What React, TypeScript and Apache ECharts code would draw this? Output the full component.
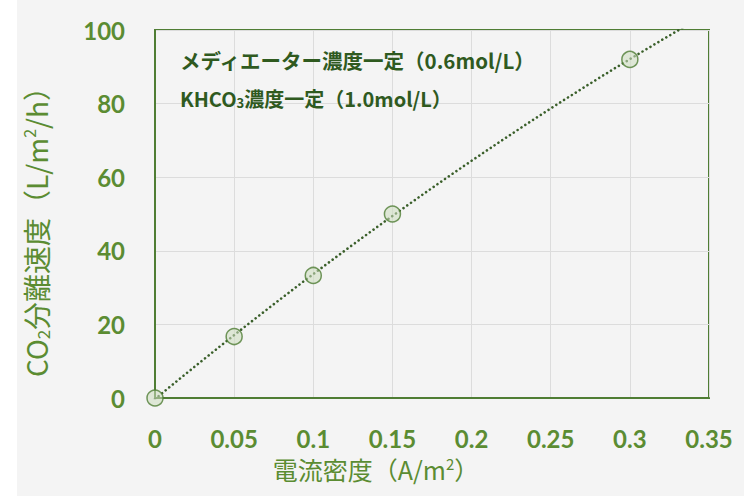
import React, { useEffect, useRef } from "react";
import * as echarts from "echarts";

const currentDensity = [0, 0.05, 0.1, 0.15, 0.3];
const co2Rate = [0, 16.7, 33.3, 50, 92];
const xTicks = { min: 0, max: 0.35, interval: 0.05 };
const yTicks = { min: 0, max: 100, interval: 20 };
const legendLines = ["メディエーター濃度一定（0.6mol/L）", "KHCO{sub|3}濃度一定（1.0mol/L）"];
const xName = "電流密度（A/m{sup|2}）";
const yName = "CO{sub|2}分離速度（L/m{sup|2}/h）";

// least-squares quadratic trendline (as in a spreadsheet "polynomial, order 2" trendline)
function quadFit(xs: number[], ys: number[]) {
  const s = (f: (x: number, y: number) => number) => xs.reduce((acc, x, i) => acc + f(x, ys[i]), 0);
  const n = xs.length;
  const Sx = s((x) => x), Sx2 = s((x) => x * x), Sx3 = s((x) => x ** 3), Sx4 = s((x) => x ** 4);
  const Sy = s((_, y) => y), Sxy = s((x, y) => x * y), Sx2y = s((x, y) => x * x * y);
  const M = [
    [n, Sx, Sx2, Sy],
    [Sx, Sx2, Sx3, Sxy],
    [Sx2, Sx3, Sx4, Sx2y],
  ];
  for (let i = 0; i < 3; i++) {
    for (let k = i + 1; k < 3; k++) {
      const f = M[k][i] / M[i][i];
      for (let j = i; j < 4; j++) M[k][j] -= f * M[i][j];
    }
  }
  const r = [0, 0, 0];
  for (let i = 2; i >= 0; i--) {
    let v = M[i][3];
    for (let j = i + 1; j < 3; j++) v -= M[i][j] * r[j];
    r[i] = v / M[i][i];
  }
  return (x: number) => r[0] + r[1] * x + r[2] * x * x;
}

export default function App() {
  const ref = useRef<HTMLDivElement>(null);
  useEffect(() => {
    if (!ref.current) return;
    const chart = echarts.init(ref.current, null, { renderer: "svg" });
    const fit = quadFit(currentDensity, co2Rate);
    const trend: number[][] = [];
    const steps = 140;
    for (let i = 0; i <= steps; i++) {
      const x = (xTicks.max * i) / steps;
      trend.push([x, fit(x)]);
    }
    const green = "#5b8c32";
    const dark = "#2f5a1f";
    const font = "Lato, 'Noto Sans CJK JP', sans-serif";
    const cjk = "'Noto Sans CJK JP', Lato, sans-serif";
    chart.setOption({
      animation: false,
      backgroundColor: "#ffffff",
      graphic: [
        {
          type: "rect",
          z: -10,
          shape: { x: 17, y: 0, width: 744, height: 496 },
          style: { fill: "#f4f4f4" },
          silent: true,
        },
        {
          type: "text",
          left: 180,
          top: 50,
          z: 10,
          style: {
            text: legendLines[0],
            fontSize: 20.5,
            fontWeight: "bold",
            fill: dark,
            fontFamily: cjk,
          },
        },
        {
          type: "text",
          left: 180,
          top: 88,
          z: 10,
          style: {
            text: legendLines[1],
            fontSize: 20,
            fontWeight: "bold",
            fill: dark,
            fontFamily: cjk,
            rich: {
              sub: { fontSize: 13, fontWeight: "bold", fill: dark, verticalAlign: "bottom", padding: [9, 0, 0, 0], fontFamily: cjk },
            },
          },
        },
      ],
      grid: {
        left: 155,
        right: 35,
        top: 30,
        bottom: 98,
        show: true,
        borderColor: "#4f7d34",
        borderWidth: 2,
        backgroundColor: "transparent",
      },
      xAxis: {
        type: "value",
        min: xTicks.min,
        max: xTicks.max,
        interval: xTicks.interval,
        name: xName,
        nameLocation: "middle",
        nameGap: 58,
        nameTextStyle: {
          fontSize: 25,
          color: green,
          fontFamily: cjk,
          padding: [0, 112, 0, 0],
          rich: {
            sup: { fontSize: 15, color: green, verticalAlign: "top", padding: [0, 0, 10, 0], fontFamily: cjk },
          },
        },
        axisLine: { show: true, lineStyle: { color: "#4f7d34", width: 2 } },
        axisTick: { show: false },
        splitLine: { show: true, lineStyle: { color: "#dcdcdc", width: 1 } },
        axisLabel: {
          fontSize: 24,
          fontWeight: "bold",
          color: green,
          margin: 28,
          fontFamily: font,
        },
      },
      yAxis: {
        type: "value",
        min: yTicks.min,
        max: yTicks.max,
        interval: yTicks.interval,
        name: yName,
        nameLocation: "middle",
        nameGap: 104,
        nameRotate: 90,
        nameTextStyle: {
          fontSize: 28,
          color: green,
          fontFamily: cjk,
          padding: [0, 22, 0, 0],
          rich: {
            sub: { fontSize: 17, color: green, verticalAlign: "bottom", padding: [13, 0, 0, 0], fontFamily: cjk },
            sup: { fontSize: 16, color: green, verticalAlign: "top", padding: [0, 0, 11, 0], fontFamily: cjk },
          },
        },
        axisLine: { show: true, lineStyle: { color: "#4f7d34", width: 2 } },
        axisTick: { show: false },
        splitLine: { show: true, lineStyle: { color: "#dcdcdc", width: 1 } },
        axisLabel: {
          fontSize: 24,
          fontWeight: "bold",
          color: green,
          margin: 30,
          fontFamily: font,
        },
      },
      series: [
        {
          type: "line",
          data: trend,
          showSymbol: false,
          symbol: "none",
          clip: true,
          z: 3,
          lineStyle: { color: "#3a5f2a", width: 2.6, type: [0.01, 4.6], cap: "round" },
        },
        {
          type: "scatter",
          data: currentDensity.map((x, i) => [x, co2Rate[i]]),
          symbol: "circle",
          symbolSize: 16,
          z: 4,
          itemStyle: { color: "rgba(205, 222, 190, 0.7)", borderColor: "#4f7d34", borderWidth: 1.5 },
        },
      ],
    });
    return () => chart.dispose();
  }, []);
  return (
    <div
      ref={ref}
      style={{ position: "fixed", left: 0, top: 0, width: 744, height: 496 }}
    />
  );
}
